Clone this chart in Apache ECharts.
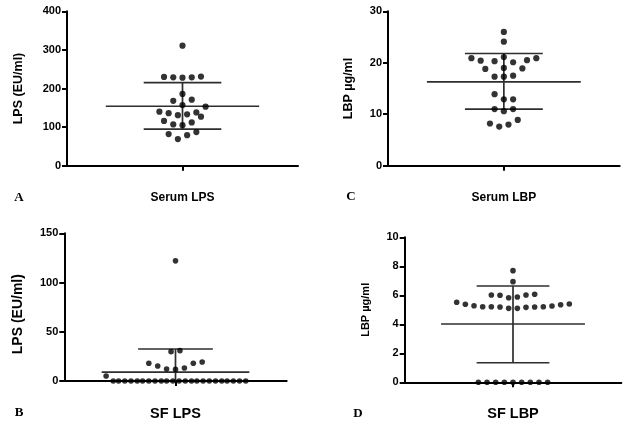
<!DOCTYPE html>
<html>
<head>
<meta charset="utf-8">
<script src="https://cdn.jsdelivr.net/npm/echarts@6/dist/echarts.min.js"></script>
<style>
html,body{margin:0;padding:0;background:#fff;}
#chart{width:636px;height:426px;}
</style>
</head>
<body>
<div id="chart"></div>
<script>
// ---------- DATA ----------
// Panel A: Serum LPS (EU/ml)
const serumLpsValues = [311, 230, 229, 228, 229, 231, 186, 168, 171, 157, 153, 140, 136, 131, 133, 138, 127, 116, 107, 105, 112, 82, 79, 87, 69];
const serumLpsSlots  = [0, -2, -1, 0, 1, 2, 0, -1, 1, 0, 2.5, -2.5, -1.5, -0.5, 0.5, 1.5, 2, -2, -1, 0, 1, -1.5, 0.5, 1.5, -0.5];
const serumLpsStats  = {mean: 154, upper: 215, lower: 95};

// Panel C: Serum LBP (µg/ml)
const serumLbpValues = [26.0, 24.1, 20.9, 20.4, 20.3, 21.1, 20.1, 20.5, 20.9, 18.8, 19.0, 18.9, 17.3, 17.3, 17.5, 13.9, 12.9, 12.9, 11.0, 10.6, 11.0, 8.2, 7.6, 8.0, 8.9];
const serumLbpSlots  = [0, 0, -3.5, -2.5, -1, 0, 1, 2.5, 3.5, -2, 0, 2, -1, 0, 1, -1, 0, 1, -1, 0, 1, -1.5, -0.5, 0.5, 1.5];
const serumLbpStats  = {mean: 16.3, upper: 21.8, lower: 11.0};

// Panel B: SF LPS (EU/ml)
const sfLpsValues = [122, 29.8, 30.8, 18, 15.2, 12.2, 11.8, 13.2, 18, 19.3, 5.1,
  0, 0, 0, 0, 0, 0, 0, 0, 0, 0, 0, 0, 0, 0, 0, 0, 0, 0, 0, 0, 0, 0, 0];
const sfLpsSlots  = [0, -0.5, 0.5, -3, -2, -1, 0, 1, 2, 3, -7.8,
  -7.0, -6.4, -5.7, -5.0, -4.3, -3.7, -3.0, -2.3, -1.6, -1.0, -0.3, 0.4, 1.1, 1.8, 2.4, 3.1, 3.8, 4.5, 5.2, 5.8, 6.5, 7.2, 7.9];
const sfLpsStats  = {mean: 9.1, upper: 32.5, lower: -14.3};

// Panel D: SF LBP (µg/ml)
const sfLbpValues = [7.7, 6.94, 6.02, 6.0, 5.83, 5.88, 6.02, 6.07,
  5.52, 5.38, 5.28, 5.21, 5.21, 5.19, 5.10, 5.10, 5.17, 5.19, 5.21, 5.26, 5.35, 5.40,
  0, 0, 0, 0, 0, 0, 0, 0, 0];
const sfLbpSlots  = [0, 0, -2.5, -1.5, -0.5, 0.5, 1.5, 2.5,
  -6.5, -5.5, -4.5, -3.5, -2.5, -1.5, -0.5, 0.5, 1.5, 2.5, 3.5, 4.5, 5.5, 6.5,
  -4, -3, -2, -1, 0, 1, 2, 3, 4];
const sfLbpStats  = {mean: 4.02, upper: 6.64, lower: 1.35};

const panelLetters = ['A', 'C', 'B', 'D'];
const xTitles = ['Serum LPS', 'Serum LBP', 'SF LPS', 'SF LBP'];
const yTitles = ['LPS (EU/ml)', 'LBP µg/ml', 'LPS (EU/ml)', 'LBP µg/ml'];
const yMax = [400, 30, 150, 10];
const yStep = [100, 10, 50, 2];

// ---------- STYLE / LAYOUT ----------
const SANS = '"Liberation Sans", Arial, sans-serif';
const SERIF = '"Liberation Serif", "Times New Roman", serif';
const INK = '#000';
const LINE = '#2e2e2e';
const MEAN_HALF = 8.3, SD_HALF = 4.2;

const panels = [
  {vals: serumLpsValues, slots: serumLpsSlots, stats: serumLpsStats,
   grid: {left: 67, top: 11.3, width: 231, height: 154.4}, dot: 6.2,
   yNameGap: 42, yNameSize: 12.5, yNamePad: [0, 0, 0, 0], xNameGap: 26, xNameSize: 12, letter: [19, 198]},
  {vals: serumLbpValues, slots: serumLbpSlots, stats: serumLbpStats,
   grid: {left: 388, top: 11.3, width: 231.7, height: 154.4}, dot: 6.2,
   yNameGap: 33, yNameSize: 12.5, yNamePad: [0, 0, 0, 0], xNameGap: 26, xNameSize: 12, letter: [351, 197]},
  {vals: sfLpsValues, slots: sfLpsSlots, stats: sfLpsStats,
   grid: {left: 64.3, top: 233.3, width: 222.4, height: 147.7}, dot: 5.6,
   yNameGap: 39, yNameSize: 14, yNamePad: [0, 14, 0, 0], xNameGap: 25, xNameSize: 14.5, letter: [19, 412.5]},
  {vals: sfLbpValues, slots: sfLbpSlots, stats: sfLbpStats,
   grid: {left: 404.7, top: 237.3, width: 216.6, height: 145}, dot: 5.6,
   yNameGap: 33, yNameSize: 11, yNamePad: [0, 0, 0, 0], xNameGap: 24, xNameSize: 14.5, letter: [358, 414]}
];

const grids = [], xAxes = [], yAxes = [], series = [], graphics = [];

panels.forEach((p, i) => {
  grids.push(Object.assign({containLabel: false}, p.grid));
  xAxes.push({
    gridIndex: i, type: 'value', min: -12.5, max: 12.5,
    axisLine: {show: true, onZero: false, lineStyle: {color: INK, width: 2}},
    axisTick: {show: true, customValues: [0], length: 5, lineStyle: {color: INK, width: 2}},
    axisLabel: {show: false}, splitLine: {show: false},
    name: xTitles[i], nameLocation: 'middle', nameGap: p.xNameGap,
    nameTextStyle: {fontFamily: SANS, fontWeight: 'bold', fontSize: p.xNameSize, color: INK}
  });
  yAxes.push({
    gridIndex: i, type: 'value', min: 0, max: yMax[i], interval: yStep[i],
    axisLine: {show: true, onZero: false, lineStyle: {color: INK, width: 2}},
    axisTick: {show: true, length: 5, lineStyle: {color: INK, width: 2}},
    axisLabel: {margin: 6, fontFamily: SANS, fontWeight: 'bold', fontSize: 11, color: INK},
    splitLine: {show: false},
    name: yTitles[i], nameLocation: 'middle', nameGap: p.yNameGap, nameRotate: 90,
    nameTextStyle: {fontFamily: SANS, fontWeight: 'bold', fontSize: p.yNameSize, color: INK, padding: p.yNamePad}
  });
  const seg = (data) => ({
    type: 'line', xAxisIndex: i, yAxisIndex: i, data: data, symbol: 'none',
    lineStyle: {color: LINE, width: 1.7}, silent: true, z: 2, clip: true
  });
  const s = p.stats;
  series.push(seg([[-MEAN_HALF, s.mean], [MEAN_HALF, s.mean]]));
  series.push(seg([[-SD_HALF, s.upper], [SD_HALF, s.upper]]));
  if (s.lower >= 0) series.push(seg([[-SD_HALF, s.lower], [SD_HALF, s.lower]]));
  series.push(seg([[0, Math.max(0, s.lower)], [0, s.upper]]));
  series.push({
    type: 'scatter', xAxisIndex: i, yAxisIndex: i,
    data: p.vals.map((v, k) => [p.slots[k], v]),
    symbol: 'circle', symbolSize: p.dot, itemStyle: {color: INK}, z: 3, clip: false
  });
  graphics.push({
    type: 'text', x: p.letter[0], y: p.letter[1],
    style: {text: panelLetters[i], font: 'bold 13px ' + SERIF, fill: INK, align: 'center', verticalAlign: 'middle'}
  });
});

const chart = echarts.init(document.getElementById('chart'), null, {renderer: 'canvas'});
chart.setOption({
  animation: false,
  backgroundColor: '#fff',
  grid: grids, xAxis: xAxes, yAxis: yAxes, series: series, graphic: graphics
});
</script>
</body>
</html>
